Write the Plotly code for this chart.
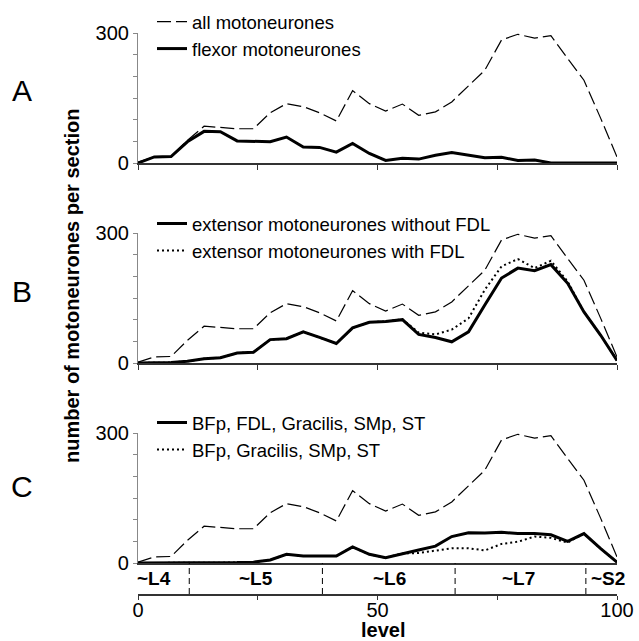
import plotly.graph_objects as go

# ---- data ----
levels = [0, 3.4, 6.9, 10.3, 13.8, 17.2, 20.7, 24.1, 27.6, 31.0, 34.5, 37.9, 41.4, 44.8, 48.3,
          51.7, 55.2, 58.6, 62.1, 65.5, 69.0, 72.4, 75.9, 79.3, 82.8, 86.2, 89.7, 93.1, 96.6, 100]
all_mn = [2, 14, 15, 52, 85, 82, 79, 79, 116, 137, 130, 116, 97, 167, 137,
          120, 136, 110, 118, 141, 177, 214, 284, 297, 288, 294, 241, 191, 103, 14]
flexor = [0, 14, 15, 49, 73, 72, 51, 50, 49, 60, 37, 36, 25, 45, 22,
          6, 11, 9, 18, 24, 18, 12, 13, 6, 7, 0, 0, 0, 0, 0]
ext_without_fdl = [0, 0, 1, 4, 10, 12, 23, 25, 54, 56, 72, 59, 45, 81, 94,
                   96, 100, 66, 59, 49, 72, 134, 196, 219, 213, 227, 184, 118, 64, 6]
ext_with_fdl = [0, 0, 1, 4, 10, 12, 23, 25, 54, 56, 72, 59, 45, 81, 94,
                96, 101, 70, 66, 77, 103, 169, 223, 240, 219, 236, 188, 118, 64, 6]
hams_with_fdl = [0, 0, 0, 0, 0, 1, 1, 2, 7, 20, 16, 16, 16, 37, 20,
                 12, 22, 30, 39, 61, 70, 69, 71, 68, 68, 65, 50, 68, 33, 2]
hams_without_fdl = [0, 0, 0, 0, 0, 1, 1, 2, 7, 20, 16, 16, 16, 37, 20,
                    12, 22, 23, 29, 34, 34, 29, 44, 49, 61, 58, 47, 68, 33, 2]

segment_bounds = [10.7, 38.5, 66.2, 93.5]
segment_names = ["~L4", "~L5", "~L6", "~L7", "~S2"]
segment_label_pos = [3.3, 24.7, 52.5, 79.5, 98.2]

FONT = "Liberation Sans, Arial, sans-serif"
W, H = 639, 641


def py(px):
    return 1 - px / H


def pxx(px):
    return px / W


fig = go.Figure()
DASH = "14px,5px"
DOT = "2px,3px"

# Panel A
fig.add_trace(go.Scatter(x=levels, y=all_mn, mode="lines", name="all motoneurones",
                         line=dict(color="black", width=1.2, dash=DASH),
                         xaxis="x", yaxis="y", legend="legend"))
fig.add_trace(go.Scatter(x=levels, y=flexor, mode="lines", name="flexor motoneurones",
                         line=dict(color="black", width=3),
                         xaxis="x", yaxis="y", legend="legend"))
# Panel B
fig.add_trace(go.Scatter(x=levels, y=all_mn, mode="lines", showlegend=False,
                         line=dict(color="black", width=1.2, dash=DASH),
                         xaxis="x2", yaxis="y2"))
fig.add_trace(go.Scatter(x=levels, y=ext_with_fdl, mode="lines", name="extensor motoneurones with FDL",
                         line=dict(color="black", width=2, dash=DOT),
                         xaxis="x2", yaxis="y2", legend="legend2", legendrank=2))
fig.add_trace(go.Scatter(x=levels, y=ext_without_fdl, mode="lines", name="extensor motoneurones without FDL",
                         line=dict(color="black", width=3),
                         xaxis="x2", yaxis="y2", legend="legend2", legendrank=1))
# Panel C
fig.add_trace(go.Scatter(x=levels, y=all_mn, mode="lines", showlegend=False,
                         line=dict(color="black", width=1.2, dash=DASH),
                         xaxis="x3", yaxis="y3"))
fig.add_trace(go.Scatter(x=levels, y=hams_without_fdl, mode="lines", name="BFp, Gracilis, SMp, ST",
                         line=dict(color="black", width=2, dash=DOT),
                         xaxis="x3", yaxis="y3", legend="legend3", legendrank=2))
fig.add_trace(go.Scatter(x=levels, y=hams_with_fdl, mode="lines", name="BFp, FDL, Gracilis, SMp, ST",
                         line=dict(color="black", width=3),
                         xaxis="x3", yaxis="y3", legend="legend3", legendrank=1))
# band axis (segments)
fig.add_trace(go.Scatter(x=[None], y=[None], mode="lines", showlegend=False,
                         xaxis="x4", yaxis="y4"))

xdom = [pxx(138), pxx(617)]
panels = [(33, 163), (233, 363), (433, 563)]

yax_common = dict(range=[0, 300], showline=True, linecolor="#888", linewidth=1.2,
                  ticks="outside", ticklen=4, tickcolor="#888", tickwidth=1,
                  tickvals=[0, 50, 100, 150, 200, 250, 300],
                  ticktext=["0", "", "", "", "", "", "300"],
                  tickfont=dict(size=20, family=FONT, color="black"),
                  showgrid=False, zeroline=False, fixedrange=True, automargin=False)

layout = dict(width=W, height=H, margin=dict(l=0, r=0, t=0, b=0, autoexpand=False),
              paper_bgcolor="white", plot_bgcolor="white",
              font=dict(family=FONT, color="black"))

for i, (top, bot) in enumerate(panels):
    sfx = "" if i == 0 else str(i + 1)
    layout["yaxis" + sfx] = dict(yax_common, domain=[py(bot), py(top)], anchor="x" + sfx)
    xa = dict(domain=xdom, range=[0, 100], anchor="y" + sfx, showline=True,
              linecolor="#333", linewidth=1.5, showgrid=False, zeroline=False,
              showticklabels=False, automargin=False)
    if i < 2:
        xa.update(ticks="outside", ticklen=5, tickcolor="#333",
                  tickvals=[0, 25, 50, 75, 100])
    layout["xaxis" + sfx] = xa

layout["yaxis4"] = dict(domain=[py(594), py(563)], anchor="x4", visible=False, range=[0, 1],
                        automargin=False)
layout["xaxis4"] = dict(domain=xdom, range=[0, 100], anchor="y4", showline=True,
                        linecolor="#333", linewidth=1.5, showgrid=False, zeroline=False,
                        ticks="outside", ticklen=4, tickcolor="#333", automargin=False,
                        ticklabelstandoff=-7,
                        tickvals=[0, 25, 50, 75, 100], ticktext=["0", "", "50", "", "100"],
                        tickfont=dict(size=20, family=FONT, color="black"))

leg_common = dict(xanchor="left", yanchor="top", bgcolor="rgba(0,0,0,0)",
                  font=dict(size=18.5, family=FONT, color="black"),
                  itemwidth=30, tracegroupgap=0, traceorder="normal")
layout["legend"] = dict(leg_common, x=pxx(152), y=py(3))
layout["legend2"] = dict(leg_common, x=pxx(152), y=py(205))
layout["legend3"] = dict(leg_common, x=pxx(152), y=py(404))

fig.update_layout(**layout)

shapes = []
for b in segment_bounds:
    shapes.append(dict(type="line", xref="x4", yref="y4 domain", x0=b, x1=b, y0=0, y1=1,
                       line=dict(color="black", width=1, dash="6px,4px")))
fig.update_layout(shapes=shapes)

ann = []
for name, pos in zip(segment_names, segment_label_pos):
    ann.append(dict(text="<b>%s</b>" % name, x=pos, y=0.5, xref="x4", yref="y4 domain",
                    xanchor="center", yanchor="middle",
                    showarrow=False, font=dict(size=19, family=FONT, color="black")))
for letter, ypx in zip(["A", "B", "C"], [90, 291, 486]):
    ann.append(dict(text=letter, x=pxx(22), y=py(ypx), xref="paper", yref="paper",
                    xanchor="center", yanchor="middle",
                    showarrow=False, font=dict(size=30, family=FONT, color="black")))
ann.append(dict(text="<b>number of motoneurones per section</b>", textangle=-90,
                x=pxx(72), y=py(286), xref="paper", yref="paper", showarrow=False,
                xanchor="center", yanchor="middle",
                font=dict(size=20, family=FONT, color="black")))
ann.append(dict(text="<b>level</b>", x=pxx(383), y=py(630), xref="paper", yref="paper",
                xanchor="center", yanchor="middle",
                showarrow=False, font=dict(size=20, family=FONT, color="black")))
fig.update_layout(annotations=ann)

fig.write_html("out.html", config={"displayModeBar": False},
               post_script="document.body.style.margin='0';document.body.style.padding='0';")
